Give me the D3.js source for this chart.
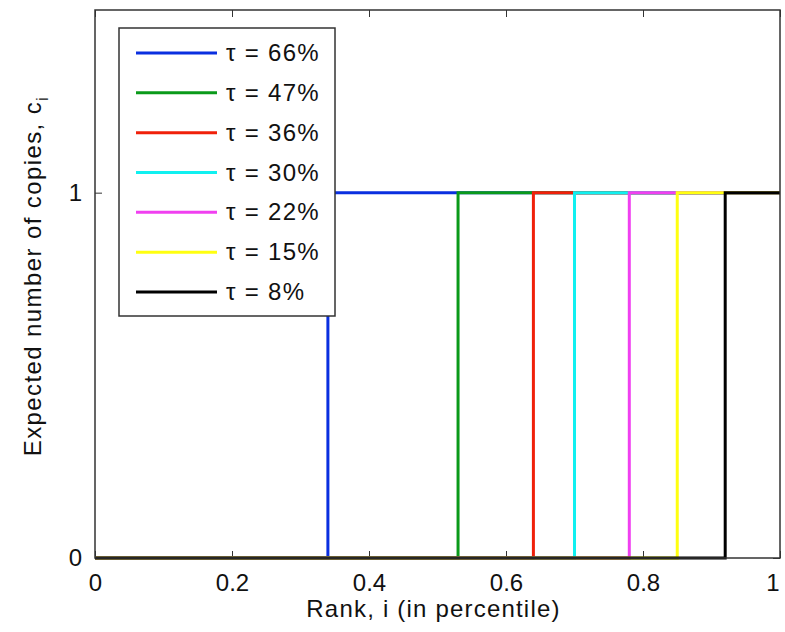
<!DOCTYPE html>
<html>
<head>
<meta charset="utf-8">
<script src="https://cdn.jsdelivr.net/npm/d3@7"></script>
<style>
  html, body { margin: 0; padding: 0; background: #fff; }
  svg { display: block; }
  text { font-family: "Liberation Sans", Arial, Helvetica, sans-serif; fill: #111; }
</style>
</head>
<body>
<svg id="chart" width="785" height="632"></svg>
<script>
// ---- data ----
const seriesLabels = ["τ = 66%", "τ = 47%", "τ = 36%", "τ = 30%", "τ = 22%", "τ = 15%", "τ = 8%"];
const seriesColors = ["#0a2fe0", "#0a9a1a", "#f0200a", "#10f0f0", "#f040f0", "#ffff10", "#000000"];
const thresholds = [0.34, 0.53, 0.64, 0.70, 0.78, 0.85, 0.92];
const lowValue = [0, 0, 0, 0, 0, 0, 0];
const highValue = [1, 1, 1, 1, 1, 1, 1];
const xTicks = [0, 0.2, 0.4, 0.6, 0.8, 1];
const xTickLabels = ["0", "0.2", "0.4", "0.6", "0.8", "1"];
const yTicks = [0, 1];
const yTickLabels = ["0", "1"];
const xDomain = [0, 1];
const yDomain = [0, 1.5];

// ---- layout ----
const W = 785, H = 632;
const margin = { left: 95, right: 5, top: 10, bottom: 74 };
const iw = W - margin.left - margin.right;
const ih = H - margin.top - margin.bottom;

const svg = d3.select("#chart");
const g = svg.append("g").attr("transform", `translate(${margin.left},${margin.top})`);

const x = d3.scaleLinear().domain(xDomain).range([0, iw]);
const y = d3.scaleLinear().domain(yDomain).range([ih, 0]);

// series
const series = seriesLabels.map((lab, i) => ({
  label: lab,
  color: seriesColors[i],
  pts: [
    [xDomain[0], lowValue[i]],
    [thresholds[i], lowValue[i]],
    [thresholds[i], highValue[i]],
    [xDomain[1], highValue[i]]
  ]
}));

const line = d3.line().x(d => x(d[0])).y(d => y(d[1]));

const axisColor = "#333";
const tickLen = 7;

const xAxisB = d3.axisBottom(x).tickValues(xTicks).tickFormat((d, i) => xTickLabels[i]).tickSizeInner(-tickLen).tickSizeOuter(0).tickPadding(16);
const xAxisT = d3.axisTop(x).tickValues(xTicks).tickFormat("").tickSizeInner(-tickLen).tickSizeOuter(0);
const yAxisL = d3.axisLeft(y).tickValues(yTicks).tickFormat((d, i) => yTickLabels[i]).tickSizeInner(-tickLen).tickSizeOuter(0).tickPadding(13);
const yAxisR = d3.axisRight(y).tickValues(yTicks).tickFormat("").tickSizeInner(-tickLen).tickSizeOuter(0);

function styleAxis(sel) {
  sel.select(".domain").remove();
  sel.selectAll(".tick line").attr("stroke", axisColor).attr("stroke-width", 1);
  sel.selectAll(".tick text").attr("font-size", 24).attr("fill", "#111")
     .style("font-family", '"Liberation Sans", Arial, Helvetica, sans-serif');
}

const gxb = g.append("g").attr("transform", `translate(0,${ih})`).call(xAxisB).call(styleAxis);
// keep the last label inside the page
gxb.selectAll(".tick text").filter((d, i) => i === xTicks.length - 1)
  .attr("text-anchor", "end").attr("dx", "-1");
g.append("g").call(xAxisT).call(styleAxis);
g.append("g").call(yAxisL).call(styleAxis);
g.append("g").attr("transform", `translate(${iw},0)`).call(yAxisR).call(styleAxis);

// draw series
g.selectAll("path.series").data(series).enter().append("path")
  .attr("class", "series")
  .attr("d", d => line(d.pts))
  .attr("fill", "none")
  .attr("stroke", d => d.color)
  .attr("stroke-width", 3);

// box
g.append("rect").attr("x", 0).attr("y", 0).attr("width", iw).attr("height", ih)
  .attr("fill", "none").attr("stroke", axisColor).attr("stroke-width", 1.5);

// axis labels
svg.append("text")
  .attr("x", margin.left + iw / 2 - 4).attr("y", 617)
  .attr("text-anchor", "middle").attr("font-size", 24)
  .attr("letter-spacing", "1.2px")
  .text("Rank, i (in percentile)");

const yl = svg.append("text")
  .attr("transform", `translate(41,${276}) rotate(-90)`)
  .attr("text-anchor", "middle").attr("font-size", 24)
  .attr("letter-spacing", "1.4px");
yl.append("tspan").text("Expected number of copies, c");
yl.append("tspan").attr("font-size", 17).attr("dy", 7).text("i");

// legend
const legend = svg.append("g");
legend.append("rect").attr("x", 119).attr("y", 28).attr("width", 216).attr("height", 288)
  .attr("fill", "#fff").attr("stroke", axisColor).attr("stroke-width", 1.5);
const rowY = d3.scaleLinear().domain([0, seriesLabels.length - 1]).range([53, 292]);
const items = legend.selectAll("g.item").data(series).enter().append("g")
  .attr("class", "item")
  .attr("transform", (d, i) => `translate(0,${rowY(i)})`);
items.append("line").attr("x1", 136).attr("x2", 217).attr("y1", 0).attr("y2", 0)
  .attr("stroke", d => d.color).attr("stroke-width", 3);
items.append("text").attr("x", 226).attr("y", 8).attr("font-size", 24)
  .attr("letter-spacing", "1.3px")
  .text(d => d.label);
</script>
</body>
</html>
